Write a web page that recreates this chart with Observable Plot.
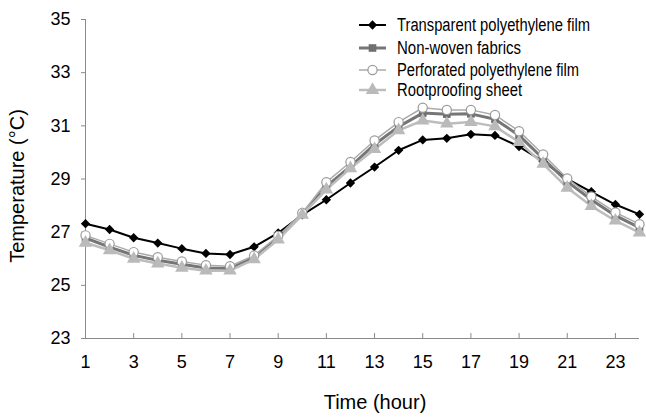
<!DOCTYPE html>
<html>
<head>
<meta charset="utf-8">
<script src="https://cdn.jsdelivr.net/npm/d3@7"></script>
<script src="https://cdn.jsdelivr.net/npm/@observablehq/plot@0.6"></script>
<style>
  html, body { margin: 0; padding: 0; background: #fff; }
  #chart { width: 646px; height: 417px; }
</style>
</head>
<body>
<div id="chart"></div>
<script>
const hours = [1,2,3,4,5,6,7,8,9,10,11,12,13,14,15,16,17,18,19,20,21,22,23,24];
const transparentFilm = [27.32,27.10,26.79,26.59,26.38,26.20,26.16,26.45,26.97,27.65,28.22,28.85,29.45,30.08,30.47,30.53,30.68,30.64,30.22,29.66,29.00,28.52,28.04,27.67];
const nonWoven        = [26.78,26.44,26.13,25.94,25.79,25.65,25.63,26.05,26.80,27.68,28.72,29.47,30.30,30.97,31.48,31.44,31.45,31.25,30.64,29.76,28.90,28.22,27.62,27.17];
const perforatedFilm  = [26.88,26.56,26.25,26.06,25.90,25.76,25.72,26.12,26.86,27.72,28.88,29.64,30.45,31.14,31.68,31.60,31.60,31.41,30.80,29.92,29.02,28.34,27.74,27.30];
const rootproofing    = [26.60,26.32,26.00,25.82,25.66,25.55,25.55,25.98,26.72,27.65,28.60,29.40,30.12,30.83,31.20,31.08,31.14,30.98,30.39,29.57,28.67,27.98,27.43,26.98];

const seriesNames = ["Transparent polyethylene film","Non-woven fabrics","Perforated polyethylene film","Rootproofing sheet"];
const xTicks = [1,3,5,7,9,11,13,15,17,19,21,23];
const yTicks = [23,25,27,29,31,33,35];
const xTitle = "Time (hour)";
const yTitle = "Temperature (°C)";

const seriesValues = [transparentFilm, nonWoven, perforatedFilm, rootproofing];
const styles = [
  {line: "#000000", lw: 2,   symbol: "diamond2", fill: "#000000", stroke: "none",    r: 4.2},
  {line: "#767676", lw: 3,   symbol: "square",   fill: "#6f6f6f", stroke: "none",    r: 4.3},
  {line: "#ababab", lw: 1.5, symbol: "circle",   fill: "#ffffff", stroke: "#9a9a9a", r: 4.6},
  {line: "#bdbdbd", lw: 2.5, symbol: "triangle", fill: "#bababa", stroke: "none",    r: 5.0}
];

const tables = seriesValues.map((vals, i) => hours.map((h, j) => ({hour: h, temp: vals[j], series: seriesNames[i]})));

const marks = [
  Plot.ruleX([hours[0]], {stroke: "#8a8a8a"}),
  Plot.ruleY([yTicks[0]], {stroke: "#8a8a8a"}),
  Plot.axisY(yTicks, {tickSize: 4, tickPadding: 11, stroke: "#8a8a8a", fill: "#000", label: null, fontSize: 18}),
  Plot.axisX(xTicks.slice(1), {tickSize: -5, tickPadding: 0, stroke: "#8a8a8a", text: () => "", label: null}),
  Plot.axisX(xTicks, {tickSize: 0, tickPadding: 17, fill: "#000", label: null, fontSize: 18})
];
tables.forEach((t, i) => {
  const s = styles[i];
  marks.push(Plot.line(t, {x: "hour", y: "temp", stroke: s.line, strokeWidth: s.lw}));
});
tables.forEach((t, i) => {
  const s = styles[i];
  marks.push(Plot.dot(t, {x: "hour", y: "temp", symbol: () => s.symbol, r: s.r, fill: s.fill, stroke: s.stroke, strokeWidth: 1.2}));
});

const chart = Plot.plot({
  width: 646,
  height: 417,
  marginLeft: 85,
  marginRight: 7,
  marginTop: 19,
  marginBottom: 79,
  x: {domain: [1, 24]},
  y: {domain: [23, 35]},
  symbol: {type: "identity"},
  style: {fontFamily: "'Liberation Sans', Arial, sans-serif", fontSize: "18px", color: "#000", background: "#fff", overflow: "visible"},
  marks
});

const svg = d3.select(chart);
const font = "'Liberation Sans', Arial, sans-serif";
// axis titles
svg.append("text")
  .attr("x", 375).attr("y", 409)
  .attr("text-anchor", "middle")
  .style("font-family", font)
  .style("font-size", "20px").attr("fill", "#000")
  .text(xTitle);
svg.append("text")
  .attr("transform", "translate(24,186) rotate(-90)")
  .attr("text-anchor", "middle")
  .style("font-family", font)
  .style("font-size", "20px").attr("fill", "#000")
  .text(yTitle);

// legend
const legendRows = [25, 48, 70, 90];
const legendWidths = [193, 124, 182, 125];
const lg = svg.append("g").attr("text-anchor", "start");
const symMap = {diamond2: d3.symbolDiamond2, square: d3.symbolSquare, circle: d3.symbolCircle, triangle: d3.symbolTriangle};
seriesNames.forEach((name, i) => {
  const s = styles[i];
  const g = lg.append("g").attr("transform", `translate(0,${legendRows[i]})`);
  g.append("line").attr("x1", 359).attr("x2", 386).attr("y1", 0).attr("y2", 0)
    .attr("stroke", s.line).attr("stroke-width", s.lw);
  g.append("path").attr("transform", "translate(372.5,0)")
    .attr("d", d3.symbol(symMap[s.symbol], s.r * s.r * Math.PI)())
    .attr("fill", s.fill).attr("stroke", s.stroke === "none" ? null : s.stroke).attr("stroke-width", 1.2);
  g.append("text").attr("x", 397).attr("y", 0).attr("dy", "0.36em")
    .attr("text-anchor", "start")
    .style("font-family", font)
    .style("font-size", "18px").attr("fill", "#000")
    .attr("textLength", legendWidths[i]).attr("lengthAdjust", "spacingAndGlyphs")
    .text(name);
});

document.getElementById("chart").appendChild(chart);
</script>
</body>
</html>
